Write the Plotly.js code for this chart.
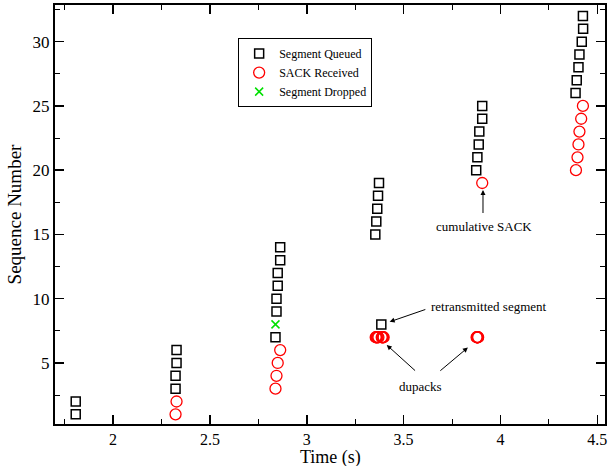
<!DOCTYPE html>
<html>
<head>
<meta charset="utf-8">
<script src="https://cdn.plot.ly/plotly-3.0.1.min.js"></script>
<style>html,body{margin:0;padding:0;background:#fff;}#chart{width:613px;height:466px;}</style>
</head>
<body>
<div id="chart"></div>
<script>
// Segment Queued (time, sequence number)
var queuedTime = [1.807,1.807, 2.3225,2.3225,2.3276,2.3276, 2.8385,2.8437,2.8437,2.850,2.850,2.8628,2.8628,
  3.354,3.359,3.364,3.368,3.373, 3.385,
  3.875,3.881,3.888,3.891,3.906,3.906,
  4.388,4.394,4.403,4.408,4.420,4.427,4.426];
var queuedSeq = [1,2, 3,4,5,6, 7,9,10,11,12,13,14, 15,16,17,18,19, 8, 20,21,22,23,24,25, 26,27,28,29,30,31,32];

// SACK Received
var sackTime = [2.3225,2.3276, 2.8385,2.8437,2.850,2.8628,
  3.356,3.359,3.362,3.366,3.370,3.387,3.390,3.394,3.397,
  3.877,3.879,3.881,3.883,3.885,
  3.906,
  4.390,4.398,4.403,4.408,4.417,4.426];
var sackSeq = [1,2, 3,4,5,6, 7,7,7,7,7,7,7,7,7, 7,7,7,7,7, 19, 20,21,22,23,24,25];

// Segment Dropped
var dropTime = [2.8385];
var dropSeq = [8];

var seriesNames = ["Segment Queued", "SACK Received", "Segment Dropped"];
var xTickVals = [2, 2.5, 3, 3.5, 4, 4.5];
var xTickText = ["2", "2.5", "3", "3.5", "4", "4.5"];
var yTickVals = [5, 10, 15, 20, 25, 30];
var yTickText = ["5", "10", "15", "20", "25", "30"];

var serif = "Liberation Serif, Times New Roman, serif";

var traces = [
  {x: queuedTime, y: queuedSeq, mode: "markers", type: "scatter", name: seriesNames[0],
   marker: {symbol: "square-open", size: 9, color: "#000", line: {width: 1.5}}},
  {x: sackTime, y: sackSeq, mode: "markers", type: "scatter", name: seriesNames[1],
   marker: {symbol: "circle-open", size: 11, color: "#ff0000", line: {width: 1.3}}},
  {x: dropTime, y: dropSeq, mode: "markers", type: "scatter", name: seriesNames[2],
   marker: {symbol: "x-thin-open", size: 8, color: "#00e000", line: {width: 1.5}}}
];

var arrowStyle = {showarrow: true, arrowhead: 2, arrowsize: 1, arrowwidth: 1, arrowcolor: "#000",
  axref: "x", ayref: "y", text: ""};

var layout = {
  width: 613, height: 466,
  margin: {l: 55, r: 8, t: 5, b: 42},
  paper_bgcolor: "#fff", plot_bgcolor: "#fff",
  font: {family: serif, size: 16, color: "#000"},
  showlegend: true,
  legend: {x: 0.333, y: 0.921, xanchor: "left", yanchor: "top",
    bgcolor: "#fff", bordercolor: "#000", borderwidth: 1,
    font: {family: serif, size: 12, color: "#000"}, tracegroupgap: 0},
  xaxis: {
    range: [1.7, 4.54], tickmode: "array", tickvals: xTickVals, ticktext: xTickText,
    ticks: "inside", ticklen: 9, tickwidth: 1.5, tickcolor: "#000",
    showline: true, linecolor: "#000", linewidth: 2, mirror: "allticks",
    showgrid: false, zeroline: false,
    minor: {ticks: "inside", ticklen: 5, dtick: 0.25, tick0: 1.75, tickcolor: "#000", tickwidth: 1, showgrid: false},
    tickfont: {family: serif, size: 16},
    title: {text: "", font: {family: serif, size: 19}}
  },
  yaxis: {
    range: [0.25, 32.85], tickmode: "array", tickvals: yTickVals, ticktext: yTickText,
    ticks: "inside", ticklen: 9, tickwidth: 1.5, tickcolor: "#000",
    showline: true, linecolor: "#000", linewidth: 2, mirror: "allticks",
    showgrid: false, zeroline: false,
    minor: {ticks: "inside", ticklen: 5, dtick: 2.5, tick0: 0, tickcolor: "#000", tickwidth: 1, showgrid: false},
    tickfont: {family: serif, size: 17},
    title: {text: "Sequence Number", font: {family: serif, size: 19}, standoff: 6}
  },
  annotations: [
    {x: 0.5, y: 0, xref: "paper", yref: "paper", yshift: -46, xanchor: "center", yanchor: "bottom",
     text: "Time (s)", showarrow: false, font: {family: serif, size: 18, color: "#000"}},
    Object.assign({}, arrowStyle, {x: 3.428, y: 8.2, ax: 3.62, ay: 9.2}),
    {x: 3.94, y: 9.36, xref: "x", yref: "y", text: "retransmitted segment", showarrow: false,
     font: {family: serif, size: 13, color: "#000"}},
    Object.assign({}, arrowStyle, {x: 3.413, y: 6.4, ax: 3.567, ay: 4.3}),
    Object.assign({}, arrowStyle, {x: 3.832, y: 6.2, ax: 3.682, ay: 4.3}),
    {x: 3.589, y: 3.2, xref: "x", yref: "y", text: "dupacks", showarrow: false,
     font: {family: serif, size: 13, color: "#000"}},
    Object.assign({}, arrowStyle, {x: 3.91, y: 18.45, ax: 3.91, ay: 16.55}),
    {x: 3.915, y: 15.65, xref: "x", yref: "y", text: "cumulative SACK", showarrow: false,
     font: {family: serif, size: 13, color: "#000"}}
  ]
};

Plotly.newPlot("chart", traces, layout, {displayModeBar: false, staticPlot: true});
</script>
</body>
</html>
